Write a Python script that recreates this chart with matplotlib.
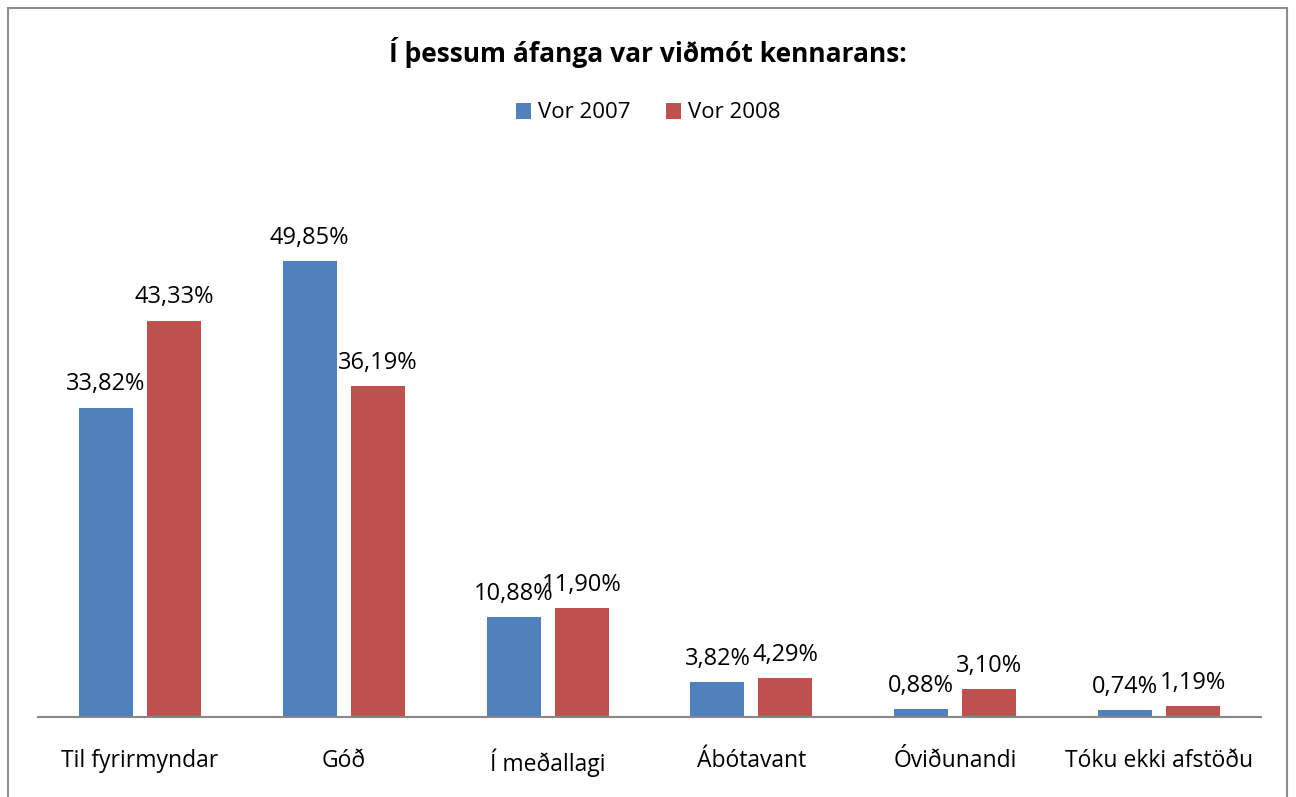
import matplotlib

matplotlib.use("Agg")
import matplotlib.pyplot as plt
import numpy as np
from matplotlib.patches import Rectangle

categories = ["Til fyrirmyndar", "Góð", "Í meðallagi", "Ábótavant", "Óviðunandi", "Tóku ekki afstöðu"]
vor_2007 = [33.82, 49.85, 10.88, 3.82, 0.88, 0.74]
vor_2008 = [43.33, 36.19, 11.90, 4.29, 3.10, 1.19]
series_names = ["Vor 2007", "Vor 2008"]

BLUE = "#4F81BD"
RED = "#C0504D"
FONT = "Open Sans"

W, H = 1296, 797
fig = plt.figure(figsize=(W / 100, H / 100), dpi=100)
ax = fig.add_axes([38 / W, 1 - 717 / H, (1261 - 38) / W, (717 - 168) / H])

x = np.arange(len(categories))
width = 0.265
offset = 0.167
b1 = ax.bar(x - offset, vor_2007, width, color=BLUE, label=series_names[0])
b2 = ax.bar(x + offset, vor_2008, width, color=RED, label=series_names[1])

for bars, vals in ((b1, vor_2007), (b2, vor_2008)):
    for bar, v in zip(bars, vals):
        ax.annotate(f"{v:.2f}%".replace(".", ","),
                    (bar.get_x() + bar.get_width() / 2, bar.get_height()),
                    xytext=(0, 8), textcoords="offset points",
                    ha="center", va="bottom", fontsize=17, family=FONT)

ax.set_xlim(-0.5, len(categories) - 0.5)
ax.set_ylim(0, 60)
ax.set_xticks(x)
ax.set_xticklabels(categories, fontsize=16.5, family=FONT)
ax.tick_params(axis="x", length=0, pad=23)
ax.set_yticks([])
for side in ("top", "right", "left"):
    ax.spines[side].set_visible(False)
ax.spines["bottom"].set_color("#878787")
ax.spines["bottom"].set_linewidth(1.5)

fig.text(0.5, 1 - 52 / H, "Í þessum áfanga var viðmót kennarans:",
         ha="center", va="center", fontsize=19, fontweight="bold", family=FONT)
fig.legend(handles=[b1, b2], loc="center", bbox_to_anchor=(0.5, 1 - 113 / H),
           ncol=2, frameon=False, prop={"family": FONT, "size": 16},
           handlelength=0.7, handleheight=0.7, handletextpad=0.3, columnspacing=1.6)

fig.patches.append(Rectangle((8 / W, -0.05), (1287 - 8) / W, 1.05 - 8 / H,
                             transform=fig.transFigure, fill=False,
                             edgecolor="#8C8C8C", linewidth=1.5))

fig.savefig("out.png", dpi=100)
